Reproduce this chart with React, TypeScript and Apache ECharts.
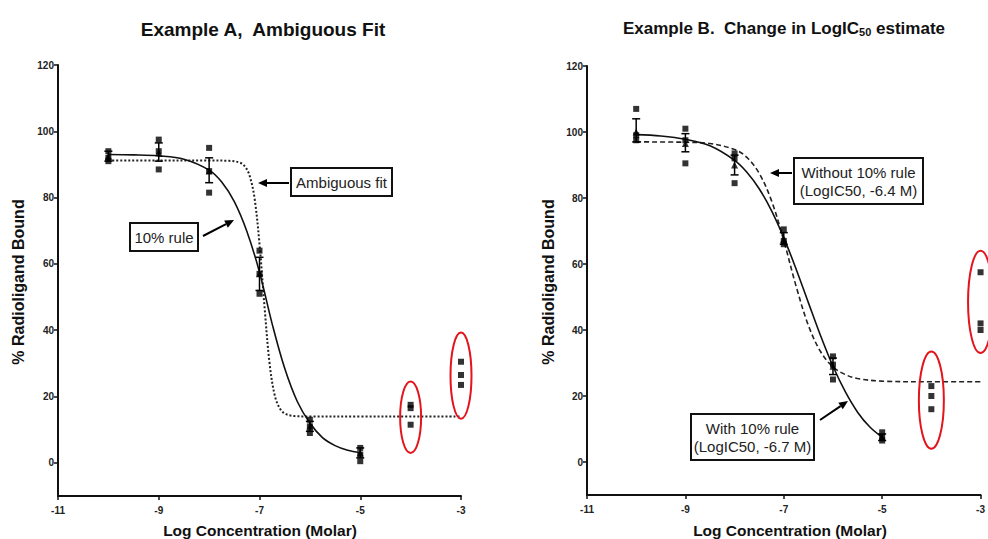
import React, { useEffect, useRef } from "react";
import * as echarts from "echarts";

// ---------- data ----------
const X_TICKS = [-11, -9, -7, -5, -3];
const Y_TICKS = [0, 20, 40, 60, 80, 100, 120];
const concentrations = [-10, -9, -8, -7, -6, -5, -4, -3];

// Example A replicates
const repsA = [
  [94, 92, 91],
  [97.5, 94, 88.5],
  [95, 88, 81.5],
  [64, 57, 51],
  [13, 11, 9],
  [4.5, 2.5, 0.5],
  [17.5, 16.5, 11.5],
  [30.5, 26.5, 23.5],
];
const errXA = [-10, -9, -8, -7, -6, -5];
const meanA = [92.5, 93.5, 88, 57, 11, 3];
const lowA = [91, 91, 84.5, 52, 9.5, 1.5];
const highA = [94, 96.5, 92, 62, 12.5, 4.5];

// Example A fitted curves
const fitA10X = [-10, -9.5, -9, -8.5, -8, -7.75, -7.5, -7.25, -7, -6.75, -6.5, -6.25, -6, -5.75, -5.5, -5.25, -5];
const fitA10Y = [93, 92.9, 92.6, 91.6, 88.3, 84.7, 78.8, 69.8, 57.5, 42, 28.5, 18.5, 12, 7.6, 5.2, 3.8, 3.1];
const fitAAmbX = [-10, -9, -8, -7.6, -7.4, -7.3, -7.2, -7.1, -7.0, -6.9, -6.8, -6.7, -6.6, -6.5, -6.3, -6, -5, -4, -3];
const fitAAmbY = [91.2, 91.2, 91.2, 91.1, 90.6, 89.6, 86.8, 80, 66, 47, 30, 20.5, 16.5, 14.9, 14.1, 14, 14, 14, 14];

// Example B replicates
const repsB = [
  [107, 99, 97.5],
  [101, 97.5, 90.5],
  [93.5, 92, 84.5],
  [70.5, 67, 66],
  [32, 29.5, 25],
  [9, 7.5, 6.5],
  [23, 20, 16],
  [57.5, 42, 40],
];
const errXB = [-10, -9, -8, -7, -6, -5];
const meanB = [100, 96.5, 90, 67.5, 29, 7.5];
const lowB = [97, 94, 87, 66, 26.5, 6.5];
const highB = [104, 99.5, 93, 69.5, 31.5, 8.5];

const fitB10X = [-10, -9.5, -9, -8.5, -8, -7.75, -7.5, -7.25, -7, -6.75, -6.5, -6.25, -6, -5.75, -5.5, -5.25, -5];
const fitB10Y = [99.2, 98.8, 97.8, 95.8, 91.4, 87.8, 82.8, 76.2, 68, 58.5, 48.3, 38.2, 29, 21.3, 15.1, 10.6, 7.5];
const fitBNoX = [-10, -9, -8.5, -8, -7.75, -7.5, -7.25, -7, -6.75, -6.5, -6.25, -6, -5.75, -5.5, -5, -4, -3];
const fitBNoY = [97, 96.9, 96.5, 94.7, 92.3, 87.5, 79.2, 67.1, 53.3, 41.4, 33.4, 28.8, 26.5, 25.3, 24.5, 24.3, 24.3];

// excluded-point ellipses: [x, yLow, yHigh]
const ellipsesA = [
  [-4, 3, 24.5],
  [-3, 13.3, 39.3],
];
const ellipsesB = [
  [-4, 4, 33.5],
  [-3, 33, 64],
];

// ---------- helpers ----------
const FONT = "'Liberation Sans', Arial, sans-serif";

const pairs = (xs: number[], ys: number[]) => xs.map((x, i) => [x, ys[i]]);
const repPoints = (reps: number[][]) =>
  concentrations.flatMap((x, i) => reps[i].map((y) => [x, y]));

function arrow(x1: number, y1: number, x2: number, y2: number) {
  const ang = Math.atan2(y2 - y1, x2 - x1);
  const L = 9, W = 4;
  const bx = x2 - L * Math.cos(ang), by = y2 - L * Math.sin(ang);
  const px = -Math.sin(ang) * W, py = Math.cos(ang) * W;
  return [
    { type: "line", shape: { x1, y1, x2: bx, y2: by }, style: { stroke: "#000", lineWidth: 2 } },
    {
      type: "polygon",
      shape: { points: [[x2, y2], [bx + px, by + py], [bx - px, by - py]] },
      style: { fill: "#000" },
    },
  ];
}

function box(x: number, y: number, w: number, h: number, text: string) {
  return [
    { type: "rect", shape: { x, y, width: w, height: h }, style: { fill: "#fff", stroke: "#111", lineWidth: 2 } },
    {
      type: "text",
      x: x + w / 2,
      y: y + h / 2,
      style: {
        text,
        align: "center",
        verticalAlign: "middle",
        font: `15px ${FONT}`,
        fill: "#222",
        lineHeight: 18,
      },
    },
  ];
}

function makeAxes(gridIndex: number) {
  const x = {
    gridIndex,
    type: "value",
    min: -11,
    max: -3,
    axisLine: { show: true, onZero: false, lineStyle: { color: "#111", width: 2 } },
    axisTick: { show: true, customValues: X_TICKS, length: 4, lineStyle: { color: "#111", width: 1.5 } },
    axisLabel: { customValues: X_TICKS, fontSize: 10, fontWeight: "bold", color: "#222", margin: 9, fontFamily: FONT },
    splitLine: { show: false },
  };
  const y = {
    gridIndex,
    type: "value",
    min: -10,
    max: 120,
    axisLine: { show: true, onZero: false, lineStyle: { color: "#111", width: 2 } },
    axisTick: { show: true, customValues: Y_TICKS, length: 4, lineStyle: { color: "#111", width: 1.5 } },
    axisLabel: { customValues: Y_TICKS, fontSize: 10, fontWeight: "bold", color: "#222", margin: 4, fontFamily: FONT },
    splitLine: { show: false },
  };
  return { x, y };
}

function errorSeries(idx: number, xs: number[], mean: number[], lo: number[], hi: number[]) {
  return {
    type: "custom",
    xAxisIndex: idx,
    yAxisIndex: idx,
    data: xs.map((x, i) => [x, mean[i], lo[i], hi[i]]),
    encode: { x: 0, y: [1, 2, 3] },
    renderItem: (_p: any, api: any) => {
      const x = api.value(0);
      const a = api.coord([x, api.value(2)]);
      const b = api.coord([x, api.value(3)]);
      const w = 4;
      const st = { stroke: "#000", lineWidth: 1.5 };
      return {
        type: "group",
        children: [
          { type: "line", shape: { x1: a[0], y1: a[1], x2: b[0], y2: b[1] }, style: st },
          { type: "line", shape: { x1: a[0] - w, y1: a[1], x2: a[0] + w, y2: a[1] }, style: st },
          { type: "line", shape: { x1: b[0] - w, y1: b[1], x2: b[0] + w, y2: b[1] }, style: st },
        ],
      };
    },
    z: 3,
  };
}

function ellipseSeries(idx: number, data: number[][], rx: number) {
  return {
    type: "custom",
    xAxisIndex: idx,
    yAxisIndex: idx,
    clip: false,
    data,
    encode: { x: 0, y: [1, 2] },
    renderItem: (_p: any, api: any) => {
      const x = api.value(0);
      const a = api.coord([x, api.value(1)]);
      const b = api.coord([x, api.value(2)]);
      return {
        type: "ellipse",
        shape: { cx: a[0], cy: (a[1] + b[1]) / 2, rx, ry: Math.abs(a[1] - b[1]) / 2 },
        style: { fill: "none", stroke: "#e3141b", lineWidth: 2 },
      };
    },
    z: 4,
  };
}

const curve = (idx: number, data: number[][], lineStyle: any) => ({
  type: "line",
  xAxisIndex: idx,
  yAxisIndex: idx,
  data,
  smooth: 0.35,
  showSymbol: false,
  symbol: "none",
  lineStyle,
  z: 2,
});

export default function App() {
  const ref = useRef<HTMLDivElement>(null);

  useEffect(() => {
    if (!ref.current) return;
    const chart = echarts.init(ref.current, undefined, { renderer: "svg" });
    const A = makeAxes(0);
    const B = makeAxes(1);

    const option: any = {
      animation: false,
      backgroundColor: "#fff",
      grid: [
        { left: 58, top: 65, width: 403, height: 431 },
        { left: 587, top: 66, width: 401, height: 429 },
      ],
      xAxis: [A.x, B.x],
      yAxis: [A.y, B.y],
      series: [
        // A
        curve(0, pairs(fitAAmbX, fitAAmbY), { color: "#222", width: 2, type: [2, 2] }),
        curve(0, pairs(fitA10X, fitA10Y), { color: "#111", width: 1.6 }),
        {
          type: "scatter", xAxisIndex: 0, yAxisIndex: 0, data: repPoints(repsA),
          symbol: "rect", symbolSize: 6, itemStyle: { color: "#000" }, z: 5,
        },
        {
          type: "scatter", xAxisIndex: 0, yAxisIndex: 0, data: pairs(errXA, meanA),
          symbol: "triangle", symbolSize: 7, itemStyle: { color: "#000" }, z: 5,
        },
        errorSeries(0, errXA, meanA, lowA, highA),
        ellipseSeries(0, ellipsesA, 10.5),
        // B
        curve(1, pairs(fitBNoX, fitBNoY), { color: "#222", width: 1.6, type: [5, 3] }),
        curve(1, pairs(fitB10X, fitB10Y), { color: "#111", width: 1.6 }),
        {
          type: "scatter", xAxisIndex: 1, yAxisIndex: 1, data: repPoints(repsB),
          symbol: "rect", symbolSize: 6, itemStyle: { color: "#000" }, z: 5,
        },
        {
          type: "scatter", xAxisIndex: 1, yAxisIndex: 1, data: pairs(errXB, meanB),
          symbol: "triangle", symbolSize: 7, itemStyle: { color: "#000" }, z: 5,
        },
        errorSeries(1, errXB, meanB, lowB, highB),
        ellipseSeries(1, ellipsesB, 12.5),
      ],
      graphic: [
        // titles
        {
          type: "text", x: 263, y: 29,
          style: { text: "Example A,  Ambiguous Fit", align: "center", verticalAlign: "middle", font: `bold 19px ${FONT}`, fill: "#111" },
        },
        {
          type: "text", x: 784, y: 28,
          style: {
            text: "{a|Example B.  Change in LogIC}{s|50}{a| estimate}",
            align: "center", verticalAlign: "middle",
            rich: {
              a: { font: `bold 17px ${FONT}`, fill: "#111", verticalAlign: "middle" },
              s: { font: `bold 11px ${FONT}`, fill: "#111", padding: [8, 0, 0, 0] },
            },
          },
        },
        // axis titles
        {
          type: "text", x: 18, y: 282, rotation: Math.PI / 2,
          style: { text: "% Radioligand Bound", align: "center", verticalAlign: "middle", font: `bold 16px ${FONT}`, fill: "#111" },
        },
        {
          type: "text", x: 548, y: 282, rotation: Math.PI / 2,
          style: { text: "% Radioligand Bound", align: "center", verticalAlign: "middle", font: `bold 16px ${FONT}`, fill: "#111" },
        },
        {
          type: "text", x: 260, y: 530,
          style: { text: "Log Concentration (Molar)", align: "center", verticalAlign: "middle", font: `bold 15.5px ${FONT}`, fill: "#111" },
        },
        {
          type: "text", x: 790, y: 530,
          style: { text: "Log Concentration (Molar)", align: "center", verticalAlign: "middle", font: `bold 15.5px ${FONT}`, fill: "#111" },
        },
        // annotations A
        ...box(291, 168, 101, 28, "Ambiguous fit"),
        ...arrow(289, 183, 258, 183),
        ...box(130, 223, 68, 28, "10% rule"),
        ...arrow(203, 236, 234, 220),
        // annotations B
        ...box(794, 158, 129, 46, "Without 10% rule\n(LogIC50, -6.4 M)"),
        ...arrow(792, 173, 770, 173),
        ...box(691, 414, 123, 46, "With 10% rule\n(LogIC50, -6.7 M)"),
        ...arrow(820, 420, 848, 401),
      ],
    };
    chart.setOption(option);
    return () => chart.dispose();
  }, []);

  return (
    <div
      ref={ref}
      style={{ position: "absolute", left: 0, top: 0, width: 988, height: 539, background: "#fff" }}
    />
  );
}
